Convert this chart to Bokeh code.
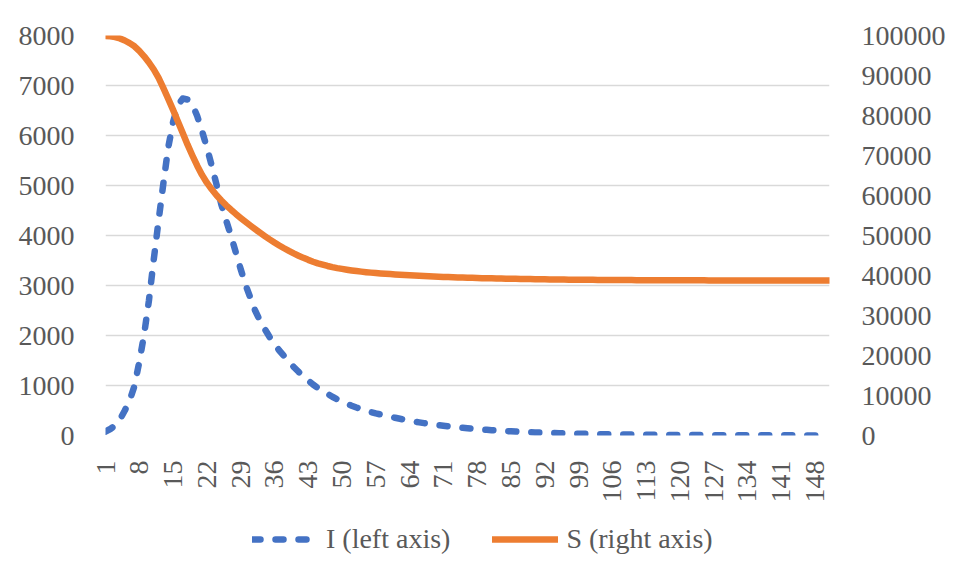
import math
from bokeh.plotting import figure
from bokeh.layouts import column
from bokeh.models import (Range1d, LinearAxis, FixedTicker, Legend, LegendItem,
                          BasicTickFormatter)
from bokeh.embed import file_html
from bokeh.resources import INLINE

days = list(range(1, 152))

infected = [
    80, 130, 200, 320, 500, 700, 990, 1470, 2020, 2700,
    3520, 4300, 5050, 5760, 6270, 6600, 6740, 6720, 6620, 6390,
    6090, 5760, 5400, 5020, 4620, 4300, 4000, 3660, 3330, 3020,
    2760, 2500, 2300, 2130, 1970, 1830, 1700, 1590, 1480, 1370,
    1275, 1185, 1100, 1020, 950, 890, 835, 775, 725, 680,
    635, 595, 560, 528, 497, 468, 442, 420, 398, 377,
    355, 334, 315, 297, 279, 263, 248, 233, 220, 207,
    195, 184, 173, 163, 153, 144, 136, 128, 121, 114,
    107, 101, 95, 90, 84, 79, 75, 70, 66, 62,
    59, 55, 52, 49, 46, 43, 41, 38, 36, 34,
    32, 30, 28, 27, 25, 24, 22, 21, 20, 19,
    18, 17, 16, 15, 14, 13, 12, 11, 11, 10,
    10, 9, 8, 8, 7, 7, 7, 6, 6, 6,
    5, 5, 5, 4, 4, 4, 4, 3, 3, 3,
    3, 3, 3, 2, 2, 2, 2, 2, 2, 2, 2,
]

susceptible = [
    99900, 99820, 99620, 99270, 98750, 98100, 97300, 96150, 94800, 93250,
    91500, 89400, 86850, 84150, 81400, 78500, 75600, 72700, 70000, 67450,
    65150, 63200, 61550, 60050, 58750, 57550, 56450, 55400, 54400, 53430,
    52490, 51580, 50700, 49850, 49030, 48250, 47510, 46810, 46150, 45530,
    44950, 44410, 43910, 43450, 43030, 42700, 42380, 42090, 41850, 41650,
    41450, 41270, 41110, 40965, 40835, 40720, 40615, 40520, 40435, 40355,
    40274, 40197, 40124, 40055, 39989, 39926, 39866, 39809, 39755, 39704,
    39655, 39609, 39565, 39523, 39483, 39445, 39409, 39375, 39343, 39312,
    39283, 39255, 39229, 39204, 39180, 39157, 39135, 39114, 39094, 39075,
    39057, 39040, 39024, 39009, 38994, 38980, 38967, 38955, 38943, 38932,
    38921, 38911, 38901, 38892, 38883, 38875, 38867, 38860, 38853, 38846,
    38840, 38834, 38828, 38823, 38818, 38813, 38809, 38805, 38801, 38797,
    38794, 38791, 38788, 38785, 38782, 38780, 38778, 38776, 38774, 38772,
    38770, 38769, 38767, 38766, 38765, 38764, 38763, 38762, 38761, 38760,
    38759, 38759, 38758, 38757, 38757, 38756, 38756, 38755, 38755, 38755, 38754,
]

x_ticks = list(range(1, 152, 7))
left_ticks = list(range(0, 8001, 1000))
right_ticks = list(range(0, 100001, 10000))

label_i = "I (left axis)"
label_s = "S (right axis)"

FONT = "Liberation Serif"
TXT = "#595959"
FS = "28px"
BLUE = "#4472C4"
ORANGE = "#ED7D31"

p = figure(width=948, height=505, output_backend="svg", toolbar_location=None,
           x_range=Range1d(1, 151), y_range=Range1d(0, 8000),
           min_border_left=105, min_border_right=115, min_border_top=35,
           min_border_bottom=69)
p.outline_line_color = None
p.background_fill_color = "white"
p.border_fill_color = "white"
p.extra_y_ranges = {"right": Range1d(0, 100000)}

p.xgrid.visible = False
p.ygrid.ticker = FixedTicker(ticks=left_ticks)
p.ygrid.grid_line_color = "#d9d9d9"
p.ygrid.grid_line_width = 1.5

p.yaxis.ticker = FixedTicker(ticks=left_ticks)
p.yaxis.major_label_standoff = 25

right_axis = LinearAxis(y_range_name="right", ticker=FixedTicker(ticks=right_ticks),
                        formatter=BasicTickFormatter(use_scientific=False))
right_axis.major_label_standoff = 26
p.add_layout(right_axis, "right")

p.xaxis.ticker = FixedTicker(ticks=x_ticks)
p.xaxis.major_label_orientation = math.pi / 2
p.xaxis.major_label_standoff = 19

for ax in p.axis:
    ax.axis_line_color = None
    ax.major_tick_line_color = None
    ax.minor_tick_line_color = None
    ax.major_label_text_font = FONT
    ax.major_label_text_font_size = FS
    ax.major_label_text_color = TXT

line_kw_i = dict(line_color=BLUE, line_width=6.5, line_dash="8 15",
                 line_cap="round", line_join="round")
line_kw_s = dict(line_color=ORANGE, line_width=6.5, line_cap="round",
                 line_join="round")

p.line(days, infected, **line_kw_i)
p.line(days, susceptible, y_range_name="right", **line_kw_s)

# legend strip below the chart (its frame is aligned with the chart's frame)
lg = figure(width=948, height=65, output_backend="svg", toolbar_location=None,
            x_range=Range1d(0, 1), y_range=Range1d(0, 1),
            min_border_left=0, min_border_right=0, min_border_top=0,
            min_border_bottom=0)
lg.axis.visible = False
lg.grid.visible = False
lg.outline_line_color = None
lg.background_fill_color = "white"
lg.border_fill_color = "white"
# legend proxies kept outside the visible range
d_i = lg.line([-5, -4], [-5, -4], **line_kw_i)
d_s = lg.line([-5, -4], [-5, -4], **line_kw_s)

legend = Legend(items=[LegendItem(label=label_i, renderers=[d_i]),
                       LegendItem(label=label_s, renderers=[d_s])],
                orientation="horizontal", location=(147, 15))
legend.padding = 0
legend.margin = 0
legend.spacing = 42
legend.glyph_width = 66
legend.glyph_height = 30
legend.label_height = 30
legend.label_standoff = 8
legend.border_line_color = None
legend.background_fill_alpha = 0
legend.label_text_font = FONT
legend.label_text_font_size = FS
legend.label_text_color = TXT
lg.add_layout(legend, "center")

page = column(p, lg, spacing=0)
open("out.html", "w").write(file_html(page, INLINE))
